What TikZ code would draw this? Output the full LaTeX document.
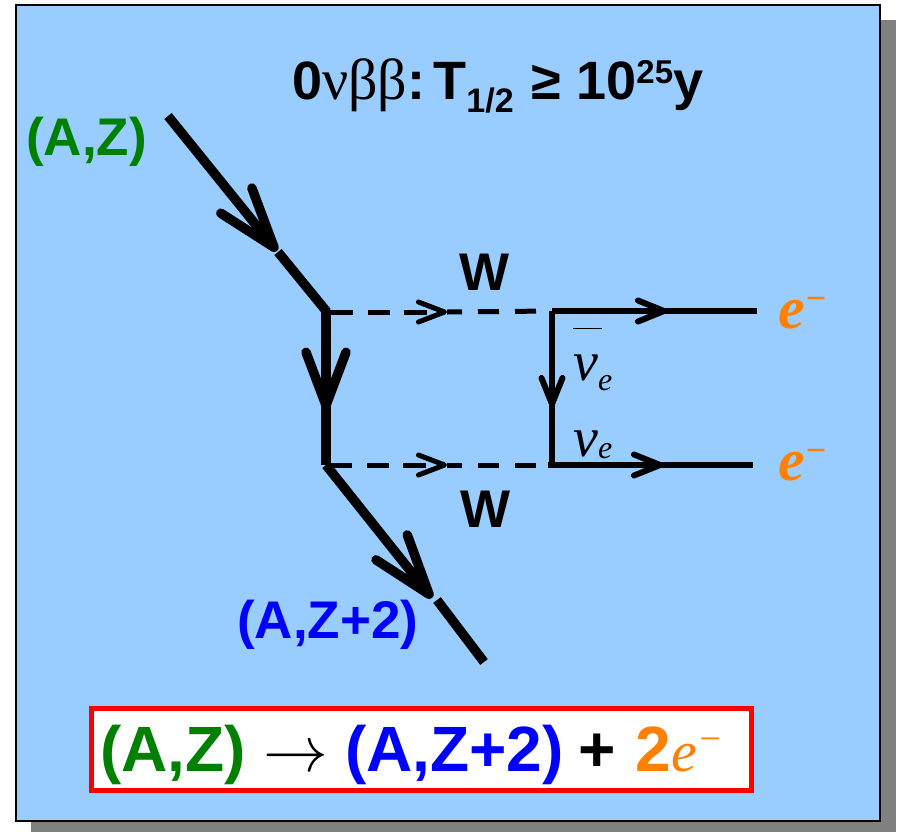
\documentclass[tikz,border=0pt]{standalone}
\usepackage{fontspec}
\setmainfont{Liberation Sans}
\newfontfamily\serifnd{Liberation Serif}
\usetikzlibrary{arrows.meta}
\definecolor{panelblue}{HTML}{99CCFF}
\definecolor{ndgreen}{HTML}{008000}
\definecolor{ndblue}{HTML}{0000FF}
\definecolor{ndorange}{HTML}{FF8000}
\newcommand{\fs}[1]{\fontsize{#1}{#1}\selectfont}
\newcommand{\nd}[1]{{\serifnd\itshape #1}}
\newcommand{\elec}{{\serifnd\bfseries\itshape\fs{60}e\raisebox{18pt}{\fs{36}\char"2212}}}
\tikzset{
  nd heavy/.style={draw=black, line width=9.5pt},
  nd heavy tip/.style={nd heavy, -{Straight Barb[length=60pt, width=40pt, round]}},
  nd thin/.style={draw=black, line width=6pt},
  nd thin tip/.style={nd thin, -{Straight Barb[length=26pt, width=21pt, round]}},
  nd dash/.style={draw=black, line width=5pt},
  nd dash in/.style={nd dash, dash pattern=on 26pt off 15pt on 22pt off 14pt on 23pt off 40pt,
    -{Straight Barb[length=26pt, width=20pt, round]}},
  nd dash out/.style={nd dash, dash pattern=on 15pt off 16pt on 21pt off 16pt on 21pt off 40pt},
  nd label/.style={inner sep=0pt, anchor=base west, font=\bfseries\fs{53}},
  nd nu/.style={inner sep=0pt, anchor=base west, font=\fs{56}},
}
\begin{document}
\begin{tikzpicture}[x=1pt, y=-1pt]
 \useasboundingbox (0,0) rectangle (897,833);
 % panel and its shadow
 \fill[black!50] (31,20) rectangle (896,832);
 \draw[fill=panelblue, line width=2.5pt] (16,5) rectangle (880,821);

 \coordinate (in) at (168,116);
 \coordinate (inm) at (277,251);
 \coordinate (inr) at (278,252);
 \coordinate (va) at (327,312);
 \coordinate (vt) at (326,312);
 \coordinate (vbm) at (326,410);
 \coordinate (vb) at (326,465);
 \coordinate (outm) at (432,598);
 \coordinate (outr) at (437,600);
 \coordinate (out) at (484,662);
 \coordinate (wa) at (447,312);
 \coordinate (wb) at (447,465);
 \coordinate (na) at (552,311);
 \coordinate (nam) at (552,407);
 \coordinate (nb) at (552,465);
 \coordinate (nbl) at (548,465);
 \coordinate (ea) at (757,311);
 \coordinate (eam) at (667,311);
 \coordinate (eb) at (753,465);
 \coordinate (ebm) at (663,465);

 % nucleus line
 \draw[nd heavy tip] (in)--(inm);
 \draw[nd heavy] (inr)--(va);
 \draw[nd heavy] (vt)--(vb);
 \draw[nd heavy tip, -{Straight Barb[length=53pt, width=40pt, round]}] (vt)--(vbm);
 \draw[nd heavy tip] (vb)--(outm);
 \draw[nd heavy] (outr)--(out);

 % W lines
 \draw[nd dash in] (va)--(wa);
 \draw[nd dash out] (wa)--(na);
 \draw[nd dash in] (vb)--(wb);
 \draw[nd dash out] (wb)--(nb);

 % neutrino and electrons
 \draw[nd thin] (na)--(nb);
 \draw[nd thin tip] (na)--(nam);
 \draw[nd thin] (na)--(ea);
 \draw[nd thin tip] (na)--(eam);
 \draw[nd thin] (nbl)--(eb);
 \draw[nd thin tip] (nbl)--(ebm);

 \node[nd label, font=\bfseries\fs{54}] (title) at (292,99)
   {0{\serifnd\mdseries\fs{58}νββ}:\hspace{8pt}T\raisebox{-13pt}{\fs{34}1/2}\hspace{3pt} ≥ 10\raisebox{16pt}{\fs{33}25}y};
 \node[nd label, text=ndgreen] (az) at (26,155) {(A,Z)};
 \node[nd label, text=ndblue] (azz) at (237,638) {(A,Z+2)};
 \node[nd label] (wtop) at (459,290) {W};
 \node[nd label] (wbot) at (460,527) {W};
 \node[nd label, text=ndorange] (etop) at (778,328) {\elec};
 \node[nd label, text=ndorange] (ebot) at (778,480) {\elec};
 \node[nd nu] (nubar) at (573,380)
   {\rlap{\raisebox{51pt}{\rule{29pt}{1.5pt}}}\nd{ν\raisebox{-10pt}{\fs{32}e}}};
 \node[nd nu] (nue) at (573,456) {\nd{ν\raisebox{-2pt}{\fs{32}e}}};

 % decay equation
 \node[draw=red, fill=white, line width=5pt, minimum width=660pt, minimum height=82pt,
   inner sep=0pt] (eqbox) at (421.5,749.5) {};
 \node[nd label, font=\bfseries\fs{64}] (eq) at (100,771)
   {\textcolor{ndgreen}{(A,Z)} \scalebox{2.6}{\mdseries$\to$}\hspace{-1pt} \textcolor{ndblue}{(A,Z+2)}\hspace{-3pt} +\hspace{2pt}
    \textcolor{ndorange}{2{\serifnd\itshape\mdseries\fs{58}e\raisebox{20pt}{\fs{38}\char"2212}}}};
\end{tikzpicture}
\end{document}
